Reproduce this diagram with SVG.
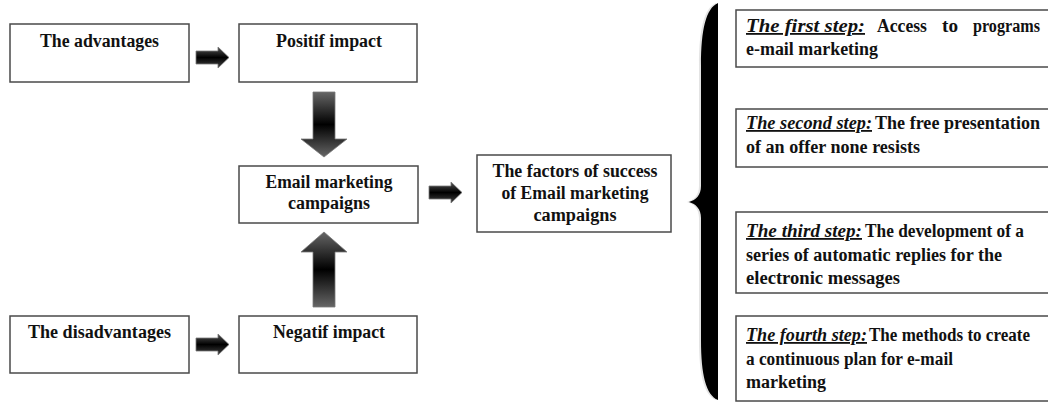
<svg xmlns="http://www.w3.org/2000/svg" width="1048" height="402" viewBox="0 0 1048 402">
  <style>
    .box { fill: #ffffff; stroke: #4a4a4a; stroke-width: 1.5; }
    .t { font-family: "Liberation Serif", "Times New Roman", serif; font-weight: bold; font-size: 18px; fill: #111111; }
    .c { text-anchor: middle; }
    .lbl { font-style: italic; text-decoration: underline; }
    .arr { stroke: #7a7a7a; stroke-width: 0.8; }
  </style>
  <defs>
    <linearGradient id="gv" x1="0" y1="0" x2="0" y2="1">
      <stop offset="0" stop-color="#666666"/>
      <stop offset="0.5" stop-color="#000000"/>
      <stop offset="1" stop-color="#666666"/>
    </linearGradient>
    <linearGradient id="gh" x1="0" y1="0" x2="0" y2="1">
      <stop offset="0" stop-color="#555555"/>
      <stop offset="0.5" stop-color="#000000"/>
      <stop offset="1" stop-color="#444444"/>
    </linearGradient>
  </defs>

  <g id="connectors">
    <path class="arr" fill="url(#gh)" d="M196,51 H218 V47 L229,57.5 L218,68 V64 H196 Z"/>
    <path class="arr" fill="url(#gh)" d="M196,338 H218 V334 L229,344.5 L218,355 V351 H196 Z"/>
    <path class="arr" fill="url(#gh)" d="M429,186 H451 V182 L462,192.5 L451,203 V199 H429 Z"/>
    <path class="arr" fill="url(#gv)" d="M313,92 H335 V139 H347 L324,157 L301,139 H313 Z"/>
    <path class="arr" fill="url(#gv)" d="M324,232 L347,252 H335 V307 H313 V252 H301 Z"/>
  </g>

  <g id="brace">
    <path d="M718,3 C706,8 701,30 701,65 L701,186 C701,195 696,200 689,202 C696,204 701,209 701,218 L701,340 C701,375 706,395 718,400 Z" fill="#d8d8d8" transform="translate(-2,0)" opacity="0.7"/>
    <path d="M718,3 C706,8 701,30 701,65 L701,186 C701,195 696,200 689,202 C696,204 701,209 701,218 L701,340 C701,375 706,395 718,400 Z" fill="#000000"/>
  </g>

  <g id="advantages">
    <rect class="box" x="10" y="24" width="179" height="58"/>
    <text class="t c" x="99.5" y="47" textLength="119" lengthAdjust="spacingAndGlyphs">The advantages</text>
  </g>
  <g id="positif">
    <rect class="box" x="239" y="24" width="178" height="58"/>
    <text class="t c" x="329" y="47" textLength="106" lengthAdjust="spacingAndGlyphs">Positif impact</text>
  </g>
  <g id="email">
    <rect class="box" x="239" y="166" width="179" height="57"/>
    <text class="t c" x="329" y="188" textLength="127" lengthAdjust="spacingAndGlyphs">Email marketing</text>
    <text class="t c" x="329" y="209" textLength="82" lengthAdjust="spacingAndGlyphs">campaigns</text>
  </g>
  <g id="factors">
    <rect class="box" x="477" y="155" width="194" height="77"/>
    <text class="t c" x="575" y="177" textLength="165" lengthAdjust="spacingAndGlyphs">The factors of success</text>
    <text class="t c" x="575" y="199" textLength="147" lengthAdjust="spacingAndGlyphs">of Email marketing</text>
    <text class="t c" x="575" y="221" textLength="83" lengthAdjust="spacingAndGlyphs">campaigns</text>
  </g>
  <g id="disadvantages">
    <rect class="box" x="10" y="316" width="179" height="57"/>
    <text class="t c" x="99.5" y="338" textLength="143" lengthAdjust="spacingAndGlyphs">The disadvantages</text>
  </g>
  <g id="negatif">
    <rect class="box" x="239" y="316" width="178" height="57"/>
    <text class="t c" x="329" y="338" textLength="112" lengthAdjust="spacingAndGlyphs">Negatif impact</text>
  </g>

  <g id="step1">
    <rect class="box" x="736" y="10" width="330" height="57"/>
    <text class="t lbl" x="746" y="32" textLength="119" lengthAdjust="spacingAndGlyphs">The first step:</text>
    <text class="t" x="877" y="32" textLength="50" lengthAdjust="spacingAndGlyphs">Access</text>
    <text class="t" x="942" y="32" textLength="16" lengthAdjust="spacingAndGlyphs">to</text>
    <text class="t" x="973" y="32" textLength="67" lengthAdjust="spacingAndGlyphs">programs</text>
    <text class="t" x="746" y="55" textLength="132" lengthAdjust="spacingAndGlyphs">e-mail marketing</text>
  </g>
  <g id="step2">
    <rect class="box" x="736" y="109" width="330" height="58"/>
    <text class="t lbl" x="746" y="129" textLength="126" lengthAdjust="spacingAndGlyphs">The second step:</text>
    <text class="t" x="875" y="129" textLength="165" lengthAdjust="spacingAndGlyphs">The free presentation</text>
    <text class="t" x="746" y="153" textLength="174" lengthAdjust="spacingAndGlyphs">of an offer none resists</text>
  </g>
  <g id="step3">
    <rect class="box" x="736" y="212" width="330" height="81"/>
    <text class="t lbl" x="746" y="237" textLength="116" lengthAdjust="spacingAndGlyphs">The third step:</text>
    <text class="t" x="865" y="237" textLength="159" lengthAdjust="spacingAndGlyphs">The development of a</text>
    <text class="t" x="746" y="261" textLength="256" lengthAdjust="spacingAndGlyphs">series of automatic replies for the</text>
    <text class="t" x="746" y="284" textLength="154" lengthAdjust="spacingAndGlyphs">electronic messages</text>
  </g>
  <g id="step4">
    <rect class="box" x="736" y="316" width="330" height="85"/>
    <text class="t lbl" x="746" y="341" textLength="121" lengthAdjust="spacingAndGlyphs">The fourth step:</text>
    <text class="t" x="869" y="341" textLength="161" lengthAdjust="spacingAndGlyphs">The methods to create</text>
    <text class="t" x="746" y="365" textLength="207" lengthAdjust="spacingAndGlyphs">a continuous plan for e-mail</text>
    <text class="t" x="746" y="388" textLength="80" lengthAdjust="spacingAndGlyphs">marketing</text>
  </g>
</svg>
